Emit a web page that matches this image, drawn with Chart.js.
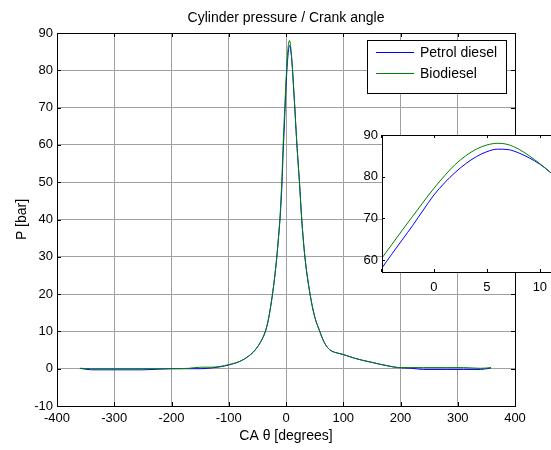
<!DOCTYPE html>
<html>
<head>
<meta charset="utf-8">
<script src="https://cdn.jsdelivr.net/npm/chart.js@4/dist/chart.umd.min.js"></script>
<style>
  html, body { margin: 0; padding: 0; background: #fff; overflow: hidden; }
  #wrap { position: relative; width: 551px; height: 450px; overflow: hidden; }
  #main { position: absolute; left: 0; top: 0; }
  #inset { position: absolute; left: 340px; top: 120px; }
</style>
</head>
<body>
<div id="wrap">
  <canvas id="main" width="551" height="450"></canvas>
  <canvas id="inset" width="230" height="175"></canvas>
</div>
<script>
// ---- Data ----
const chartTitle = "Cylinder pressure / Crank angle";
const xTitle = "CA \u03b8 [degrees]";
const yTitle = "P [bar]";
const seriesNames = ["Petrol diesel", "Biodiesel"];

const angles = [-360, -340, -300, -250, -200, -170, -150, -130, -115, -100, -80, -65, -54, -45, -36, -31, -25, -21, -17, -14, -11.5, -10, -8.5, -7, -6, -5, -4, -3, -2, -1, 0, 1, 2, 3, 4, 5, 6, 7, 8, 9, 10, 11, 12, 13, 15, 17, 19.5, 23.5, 27.5, 33, 42, 50, 59, 66, 73, 80, 90, 100, 120, 135, 150, 164, 180, 196, 220, 240, 280, 310, 340, 358];

const petrol = [0.1, -0.3, -0.3, -0.3, 0, 0, 0, 0.2, 0.5, 1.0, 2.0, 3.4, 5, 7.0, 10, 13, 18.5, 23, 28.5, 33.5, 38, 41, 45, 49.5, 53.6, 57.7, 61.3, 64.8, 68.3, 72.0, 75.6, 78.5, 81.0, 83.1, 84.8, 86.0, 86.6, 86.5, 85.7, 84.5, 83.0, 81.0, 78.7, 76.1, 71, 65.5, 59, 50, 40, 30, 20, 14, 10, 7.3, 5.6, 4.7, 4.2, 3.8, 2.8, 2.2, 1.7, 1.2, 0.7, 0.3, 0.1, -0.2, -0.2, -0.2, -0.2, 0.2];

const biodiesel = [0.1, 0, 0, 0, 0, 0.1, 0.4, 0.4, 0.6, 1.1, 2.0, 3.4, 5, 7.0, 10, 13, 18.5, 23, 28.5, 33.5, 38.5, 42, 46.5, 51.5, 56, 60.1, 63.6, 67.1, 70.5, 73.9, 77.2, 80.2, 82.9, 85.0, 86.6, 87.6, 88.0, 87.7, 86.6, 85.0, 83.1, 81.0, 78.6, 76.0, 71, 65.5, 59, 50, 40, 30, 20, 14, 10, 7.3, 5.6, 4.7, 4.2, 3.8, 2.8, 2.2, 1.7, 1.2, 0.7, 0.3, 0.3, 0.3, 0.3, 0.3, 0.1, 0.3];

const xTicks = [-400, -300, -200, -100, 0, 100, 200, 300, 400];
const yTicks = [-10, 0, 10, 20, 30, 40, 50, 60, 70, 80, 90];
const insetXTicks = [-5, 0, 5, 10];
const insetYTicks = [60, 70, 80, 90];

// ---- Styling ----
const FONT = "'Liberation Sans', Arial, Helvetica, sans-serif";
Chart.defaults.font.family = FONT;
Chart.defaults.font.size = 13;
Chart.defaults.color = '#000';
const colors = ['#0000ff', '#008000'];

function makeDatasets() {
  return [petrol, biodiesel].map((vals, i) => ({
    label: seriesNames[i],
    data: angles.map((a, j) => ({ x: a, y: vals[j] })),
    borderColor: colors[i],
    backgroundColor: colors[i],
    borderWidth: 1,
    pointRadius: 0,
    fill: false,
    cubicInterpolationMode: 'monotone',
    order: i === 0 ? 1 : 0
  }));
}

function px(v) { return Math.round(v) + 0.5; }

// box + inward tick marks
const boxPlugin = {
  id: 'boxTicks',
  afterDatasetsDraw(chart, args, opts) {
    const { ctx, chartArea: a, scales } = chart;
    ctx.save();
    ctx.strokeStyle = '#000';
    ctx.lineWidth = 1;
    const L = opts.len || 4;
    ctx.beginPath();
    scales.x.ticks.forEach(t => {
      const x = px(scales.x.getPixelForValue(t.value));
      ctx.moveTo(x, a.bottom); ctx.lineTo(x, a.bottom - L);
      ctx.moveTo(x, a.top); ctx.lineTo(x, a.top + L);
    });
    scales.y.ticks.forEach(t => {
      const y = px(scales.y.getPixelForValue(t.value));
      ctx.moveTo(a.left, y); ctx.lineTo(a.left + L, y);
      ctx.moveTo(a.right, y); ctx.lineTo(a.right - L, y);
    });
    ctx.stroke();
    ctx.strokeRect(px(a.left), px(a.top), Math.round(a.right - a.left), Math.round(a.bottom - a.top));
    ctx.restore();
  }
};

const bgPlugin = {
  id: 'areaBg',
  beforeDraw(chart, args, opts) {
    if (!opts.fill) return;
    const { ctx, chartArea: a } = chart;
    ctx.save();
    ctx.fillStyle = opts.fill;
    ctx.fillRect(a.left, a.top, a.right - a.left, a.bottom - a.top);
    ctx.restore();
  }
};

const titlePlugin = {
  id: 'plotTitle',
  afterDraw(chart, args, opts) {
    if (!opts.text) return;
    const { ctx, chartArea: a } = chart;
    ctx.save();
    ctx.font = '14px ' + FONT;
    ctx.fillStyle = '#000';
    ctx.textAlign = 'center';
    ctx.textBaseline = 'alphabetic';
    ctx.fillText(opts.text, (a.left + a.right) / 2, opts.y);
    ctx.restore();
  }
};

const legendPlugin = {
  id: 'boxLegend',
  afterDraw(chart, args, opts) {
    if (!opts.show) return;
    const { ctx } = chart;
    const x0 = 367, y0 = 40, w = 139, h = 53;
    ctx.save();
    ctx.fillStyle = '#fff';
    ctx.fillRect(x0, y0, w, h);
    ctx.strokeStyle = '#000';
    ctx.lineWidth = 1;
    ctx.strokeRect(x0 + 0.5, y0 + 0.5, w, h);
    ctx.font = '14px ' + FONT;
    ctx.textBaseline = 'middle';
    ctx.textAlign = 'left';
    chart.data.datasets.forEach((ds, i) => {
      const y = y0 + 12 + i * 21;
      ctx.strokeStyle = ds.borderColor;
      ctx.beginPath();
      ctx.moveTo(x0 + 9, y + 0.5);
      ctx.lineTo(x0 + 47, y + 0.5);
      ctx.stroke();
      ctx.fillStyle = '#000';
      ctx.fillText(ds.label, x0 + 53, y + 1);
    });
    ctx.restore();
  }
};

// ---- Main chart ----
new Chart(document.getElementById('main'), {
  type: 'line',
  data: { datasets: makeDatasets() },
  plugins: [boxPlugin, titlePlugin, legendPlugin],
  options: {
    responsive: false,
    animation: false,
    events: [],
    layout: { padding: { top: 33, right: 36, left: 0, bottom: 0 } },
    plugins: {
      legend: { display: false },
      tooltip: { enabled: false },
      plotTitle: { text: chartTitle, y: 22 },
      boxLegend: { show: true },
      boxTicks: { len: 4 }
    },
    scales: {
      x: {
        type: 'linear',
        min: xTicks[0], max: xTicks[xTicks.length - 1],
        afterBuildTicks: s => { s.ticks = xTicks.map(v => ({ value: v })); },
        afterFit: s => { s.height = 44; },
        ticks: { padding: 5, maxRotation: 0, autoSkip: false, font: { size: 13 } },
        grid: { color: '#a0a0a0', lineWidth: 1, drawTicks: false },
        border: { display: false },
        title: { display: true, text: xTitle, padding: { top: 0, bottom: 5 }, font: { size: 14 } }
      },
      y: {
        type: 'linear',
        min: yTicks[0], max: yTicks[yTicks.length - 1],
        afterBuildTicks: s => { s.ticks = yTicks.map(v => ({ value: v })); },
        afterFit: s => { s.width = 57; },
        ticks: { padding: 4, autoSkip: false, font: { size: 13 } },
        grid: { color: '#a0a0a0', lineWidth: 1, drawTicks: false },
        border: { display: false },
        title: { display: true, text: yTitle, padding: { top: 14, bottom: 0 }, font: { size: 14 } }
      }
    }
  }
});

// ---- Inset chart ----
new Chart(document.getElementById('inset'), {
  type: 'line',
  data: { datasets: makeDatasets() },
  plugins: [bgPlugin, boxPlugin],
  options: {
    responsive: false,
    animation: false,
    events: [],
    layout: { padding: { top: 15, right: 10, left: 0, bottom: 0 } },
    plugins: {
      legend: { display: false },
      tooltip: { enabled: false },
      areaBg: { fill: '#ffffff' },
      boxTicks: { len: 3 }
    },
    scales: {
      x: {
        type: 'linear',
        min: -4.9, max: 11.9,
        afterBuildTicks: s => { s.ticks = insetXTicks.map(v => ({ value: v })); },
        afterFit: s => { s.height = 23; },
        ticks: { padding: 8, maxRotation: 0, autoSkip: false, font: { size: 13 },
                 callback: v => (v < -4.9 ? '' : v) },
        grid: { display: false, drawTicks: false },
        border: { display: false }
      },
      y: {
        type: 'linear',
        min: 57.1, max: 90,
        afterBuildTicks: s => { s.ticks = insetYTicks.map(v => ({ value: v })); },
        afterFit: s => { s.width = 42; },
        ticks: { padding: 4, autoSkip: false, font: { size: 13 } },
        grid: { display: false, drawTicks: false },
        border: { display: false }
      }
    }
  }
});
</script>
</body>
</html>
